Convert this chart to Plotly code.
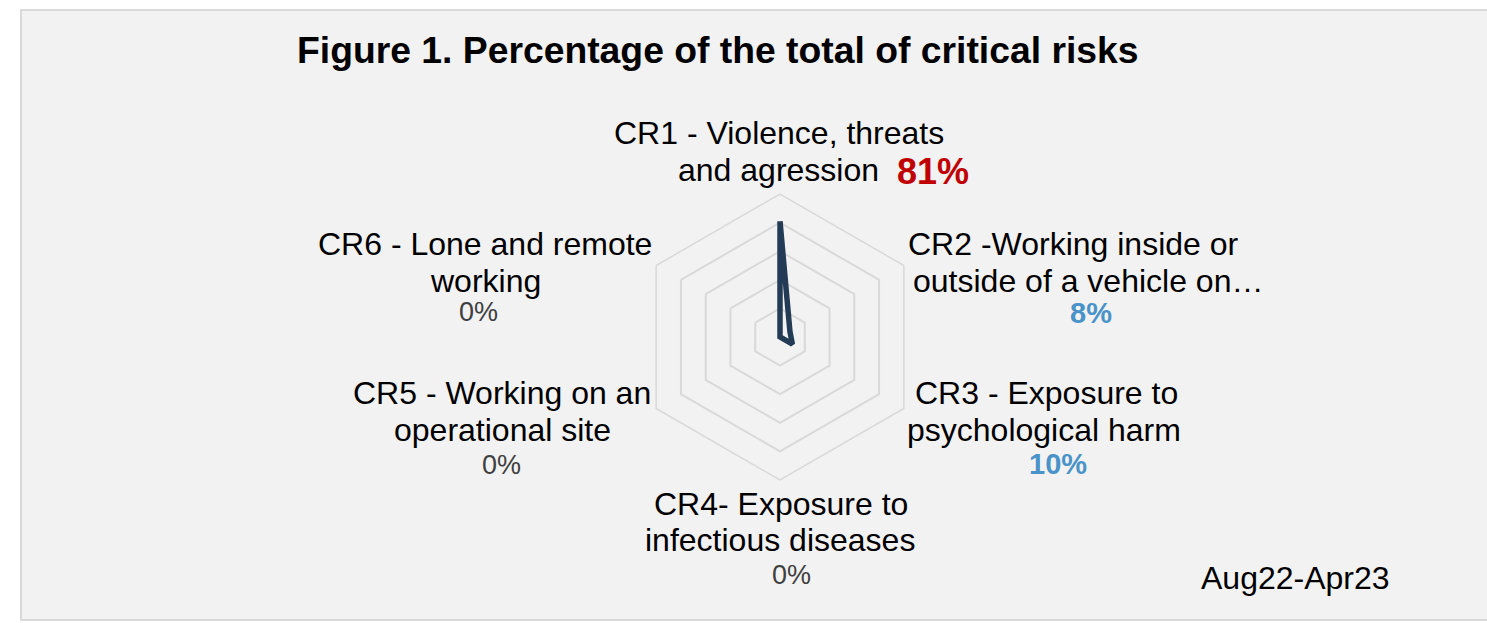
import plotly.graph_objects as go

# ---- data ----
categories = ["CR1", "CR2", "CR3", "CR4", "CR5", "CR6"]
label_lines = [
    ["CR1 - Violence, threats", "and agression"],
    ["CR2 -Working inside or", "outside of a vehicle on…"],
    ["CR3 - Exposure to", "psychological harm"],
    ["CR4- Exposure to", "infectious diseases"],
    ["CR5 - Working on an", "operational site"],
    ["CR6 - Lone and remote", "working"],
]
shares = [0.81, 0.08, 0.10, 0.0, 0.0, 0.0]
title_text = "Figure 1. Percentage of the total of critical risks"
period_text = "Aug22-Apr23"

# ---- layout helpers (pixel -> paper) ----
W, H = 1487, 623
def px(x):
    return x / W
def py(y):
    return 1 - y / H

# label placement (pixel centres): line1, line2, percent
line_pos = [
    [(779, 133), (779, 170)],
    [(1073, 244), (1088, 281)],
    [(1046, 393), (1044, 430)],
    [(781, 504), (780, 540)],
    [(502, 393), (502, 430)],
    [(485, 244), (485, 281)],
]
pct_pos = [(933, 171), (1091, 313), (1058, 464), (791, 575), (501, 465), (479, 312)]

def pct_style(v):
    if v >= 0.5:
        return dict(color="#C00000", size=36, family="Liberation Sans"), True
    if v > 0:
        return dict(color="#4A93C8", size=29, family="Liberation Sans"), True
    return dict(color="#404040", size=27, family="Liberation Sans"), False

fig = go.Figure()
fig.add_trace(go.Scatterpolar(
    r=shares + shares[:1],
    theta=categories + categories[:1],
    mode="lines",
    line=dict(color="#243B55", width=5.5),
    hoverinfo="skip",
    showlegend=False,
))

cx, cy, R = 780, 337, 143
annotations = []
annotations.append(dict(
    text="<b>" + title_text + "</b>", x=px(718), y=py(50), xref="paper", yref="paper",
    xanchor="center", yanchor="middle", showarrow=False,
    font=dict(family="Liberation Sans", size=37.3, color="#000000"),
))
annotations.append(dict(
    text=period_text, x=px(1295), y=py(578), xref="paper", yref="paper",
    xanchor="center", yanchor="middle", showarrow=False,
    font=dict(family="Liberation Sans", size=32, color="#000000"),
))
for lines, pos, v, ppos in zip(label_lines, line_pos, shares, pct_pos):
    for t, (x, y) in zip(lines, pos):
        annotations.append(dict(
            text=t, x=px(x), y=py(y), xref="paper", yref="paper",
            xanchor="center", yanchor="middle", showarrow=False,
            font=dict(family="Liberation Sans", size=32, color="#000000"),
        ))
    style, bold = pct_style(v)
    s = f"{round(v * 100)}%"
    annotations.append(dict(
        text=("<b>" + s + "</b>") if bold else s, x=px(ppos[0]), y=py(ppos[1]),
        xref="paper", yref="paper", xanchor="center", yanchor="middle", showarrow=False,
        font=style,
    ))

fig.update_layout(
    width=W, height=H, autosize=False,
    margin=dict(l=0, r=0, t=0, b=0),
    paper_bgcolor="#FFFFFF",
    plot_bgcolor="#FFFFFF",
    shapes=[dict(
        type="rect", xref="paper", yref="paper",
        x0=px(21), x1=1.02, y0=py(620), y1=py(10),
        fillcolor="#F2F2F2", line=dict(color="#D9D9D9", width=2), layer="below",
    )],
    polar=dict(
        domain=dict(x=[px(cx - R), px(cx + R)], y=[py(cy + R), py(cy - R)]),
        bgcolor="rgba(0,0,0,0)",
        gridshape="linear",
        radialaxis=dict(
            range=[0, 1], tickvals=[0.2, 0.4, 0.6, 0.8, 1.0],
            showticklabels=False, ticks="", showline=False,
            gridcolor="#D9D9D9", gridwidth=1.5,
        ),
        angularaxis=dict(
            rotation=90, direction="clockwise",
            showticklabels=False, ticks="", showgrid=False,
            showline=True, linecolor="#D9D9D9", linewidth=1.5,
        ),
    ),
    annotations=annotations,
)

fig.write_html("out.html")
